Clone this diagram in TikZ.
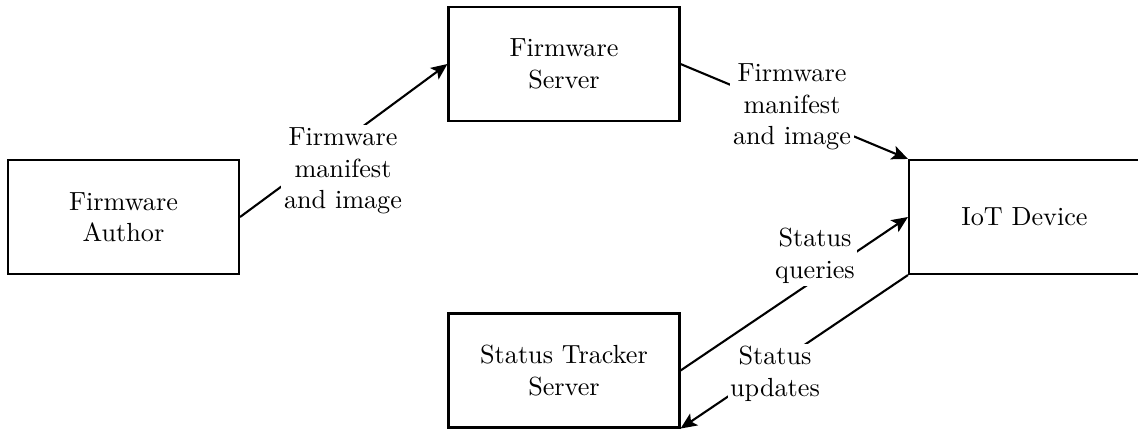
\documentclass[tikz,border=0pt]{standalone}
\usetikzlibrary{arrows.meta}
\begin{document}
\begin{tikzpicture}[x=0.3817pt,y=-0.3817pt,
  box/.style={draw,line width=0.8pt,minimum width={231*0.3817pt},minimum height={114*0.3817pt},align=center,inner sep=0pt},
  flow/.style={line width=0.8pt,-{Stealth[length=6.2pt,width=5.4pt,inset=1.4pt]}},
  lbl/.style={fill=white,align=center,inner sep=1pt}]
\useasboundingbox (0,0) rectangle (1138,430);
\node[box] (author)  at (123.5,217)  {Firmware\\Author};
\node[box] (server)  at (564,64)     {Firmware\\Server};
\node[box] (iot)     at (1024.5,217) {IoT Device};
\node[box] (tracker) at (564,370.5)  {Status Tracker\\Server};
\draw[flow] (author.east) -- (server.west);
\draw[flow] (server.east) -- (iot.north west);
\draw[flow] (tracker.east) -- (iot.west);
\draw[flow] (iot.south west) -- (tracker.south east);
\node[lbl] (l1) at (343,171) {Firmware\\manifest\\and image};
\node[lbl] (l2) at (792,107) {Firmware\\manifest\\and image};
\node[lbl] (l3) at (815,256) {Status\\queries};
\node[lbl] (l4) at (775,374) {Status\\updates};
\end{tikzpicture}
\end{document}
